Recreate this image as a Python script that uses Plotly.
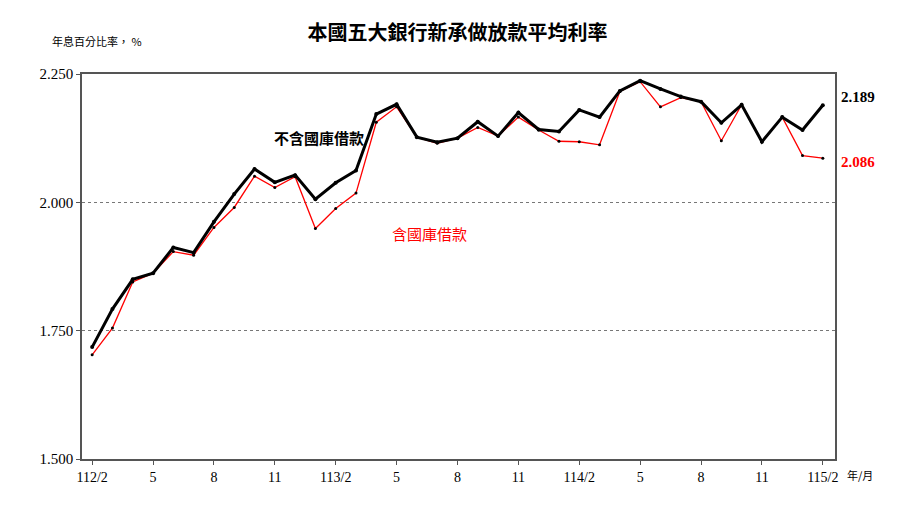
import plotly.graph_objects as go

months = ["112/2", "3", "4", "5", "6", "7", "8", "9", "10", "11", "12", "113/1",
          "113/2", "3", "4", "5", "6", "7", "8", "9", "10", "11", "12", "114/1",
          "114/2", "3", "4", "5", "6", "7", "8", "9", "10", "11", "12", "115/1", "115/2"]

# 不含國庫借款
excl = [1.718, 1.792, 1.850, 1.862, 1.912, 1.902, 1.962, 2.016, 2.065, 2.039, 2.053, 2.006,
        2.038, 2.062, 2.172, 2.191, 2.127, 2.117, 2.125, 2.157, 2.129, 2.175, 2.142, 2.138,
        2.180, 2.166, 2.217, 2.237, 2.221, 2.206, 2.196, 2.155, 2.190, 2.118, 2.166, 2.141, 2.189]
# 含國庫借款
incl = [1.703, 1.755, 1.845, 1.862, 1.904, 1.897, 1.951, 1.990, 2.051, 2.029, 2.050, 1.949,
        1.988, 2.018, 2.156, 2.186, 2.127, 2.115, 2.125, 2.146, 2.129, 2.166, 2.141, 2.119,
        2.118, 2.112, 2.216, 2.235, 2.186, 2.204, 2.196, 2.120, 2.190, 2.118, 2.166, 2.091, 2.086]

tick_idx = list(range(0, len(months), 3))
tick_txt = ["112/2", "5", "8", "11", "113/2", "5", "8", "11", "114/2", "5", "8", "11", "115/2"]

serif = "Liberation Serif"
cjk = "Noto Sans CJK TC"
x = list(range(len(months)))

fig = go.Figure()
fig.add_trace(go.Scatter(x=x, y=incl, mode="lines+markers", name="含國庫借款",
                         line=dict(color="red", width=1.3),
                         marker=dict(color="black", size=3)))
fig.add_trace(go.Scatter(x=x, y=excl, mode="lines+markers", name="不含國庫借款",
                         line=dict(color="black", width=3),
                         marker=dict(color="black", size=4)))

fig.update_layout(
    width=899, height=528,
    margin=dict(l=74, r=72, t=66, b=77),
    paper_bgcolor="white", plot_bgcolor="white",
    showlegend=False,
    title=dict(text="<b>本國五大銀行新承做放款平均利率</b>", x=0.5, y=0.965, xanchor="center",
               font=dict(family=cjk, size=20, color="black")),
    xaxis=dict(range=[-0.5, 36.6], tickvals=tick_idx, ticktext=tick_txt,
               showgrid=False, showline=True, linecolor="#555", linewidth=1.5, mirror=True,
               ticks="outside", ticklen=4, tickcolor="#555",
               tickfont=dict(family=serif, size=14, color="black")),
    yaxis=dict(range=[1.5, 2.25], dtick=0.25, tickformat=".3f",
               showgrid=True, gridcolor="#777", griddash="dot", gridwidth=1,
               showline=True, linecolor="#555", linewidth=1.5, mirror=True,
               ticks="outside", ticklen=4, tickcolor="#555",
               tickfont=dict(family=serif, size=15, color="black")),
)

fig.add_annotation(x=0, y=1.06, xref="paper", yref="paper", xanchor="right", yanchor="bottom",
                   xshift=62, text="年息百分比率， %", showarrow=False,
                   font=dict(family=cjk, size=11, color="black"))
fig.add_annotation(x=1, y=0, xref="paper", yref="paper", xanchor="left", yanchor="top",
                   xshift=10, yshift=-6, text="年/月", showarrow=False,
                   font=dict(family=cjk, size=11, color="black"))
fig.add_annotation(x=x[-1], y=excl[-1], xanchor="left", xshift=16, yshift=8,
                   text="<b>%.3f</b>" % excl[-1], showarrow=False,
                   font=dict(family=serif, size=15, color="black"))
fig.add_annotation(x=x[-1], y=incl[-1], xanchor="left", xshift=16, yshift=-4,
                   text="<b>%.3f</b>" % incl[-1], showarrow=False,
                   font=dict(family=serif, size=15, color="red"))
fig.add_annotation(x=11.2, y=2.127, text="<b>不含國庫借款</b>", showarrow=False,
                   font=dict(family=cjk, size=15, color="black"))
fig.add_annotation(x=16.6, y=1.94, text="含國庫借款", showarrow=False,
                   font=dict(family=cjk, size=15, color="red"))

fig.write_html("out.html")
